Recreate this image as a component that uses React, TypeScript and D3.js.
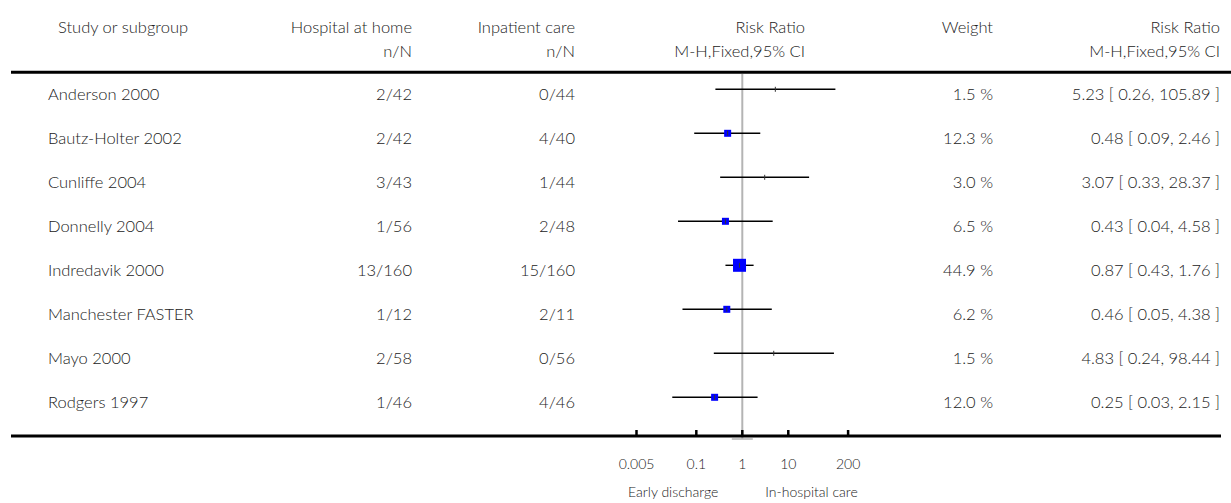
import React from "react";
import * as d3 from "d3";

const studies = [
  "Anderson 2000",
  "Bautz-Holter 2002",
  "Cunliffe 2004",
  "Donnelly 2004",
  "Indredavik 2000",
  "Manchester FASTER",
  "Mayo 2000",
  "Rodgers 1997",
];
const homeEvents = ["2/42", "2/42", "3/43", "1/56", "13/160", "1/12", "2/58", "1/46"];
const inpatientEvents = ["0/44", "4/40", "1/44", "2/48", "15/160", "2/11", "0/56", "4/46"];
const weights = [1.5, 12.3, 3.0, 6.5, 44.9, 6.2, 1.5, 12.0];
const riskRatio = [5.23, 0.48, 3.07, 0.43, 0.87, 0.46, 4.83, 0.25];
const ciLow = [0.26, 0.09, 0.33, 0.04, 0.43, 0.05, 0.24, 0.03];
const ciHigh = [105.89, 2.46, 28.37, 4.58, 1.76, 4.38, 98.44, 2.15];
const axisTicks = [0.005, 0.1, 1, 10, 200];
const axisTickLabels = ["0.005", "0.1", "1", "10", "200"];
const leftFavours = "Early discharge";
const rightFavours = "In-hospital care";

const W = 1231;
const H = 503;
const FONT = "Lato, 'Open Sans', sans-serif";
const TEXT = "#222";

export default function App() {
  const x = d3.scaleLog().domain([0.005, 200]).range([636.5, 848.1]);
  const y = d3.scalePoint<string>().domain(studies).range([89.3, 89.3 + 44 * 7]);
  const squareSize = d3.scaleThreshold<number, number>().domain([5, 20]).range([0, 7, 13]);
  const f2 = d3.format(".2f");
  const f1 = d3.format(".1f");

  const nameX = 48;
  const col2R = 412;
  const col3R = 575;
  const rrR = 805;
  const wR = 993;
  const ciR = 1220;
  const fs = 16.5;
  const h1 = 32.5;
  const h2 = 56.5;
  const axisY = 436;
  const x1 = x(1);

  return (
    <svg
      width={W}
      height={H}
      style={{ position: "absolute", left: 0, top: 0, background: "#fff" }}
      fontFamily={FONT}
      fontWeight={300}
    >
      <rect x={0} y={0} width={W} height={H} fill="#fff" />
      {/* header */}
      <g fontSize={fs} fill={TEXT}>
        <text x={58} y={h1}>Study or subgroup</text>
        <text x={col2R} y={h1} textAnchor="end">Hospital at home</text>
        <text x={col2R} y={h2} textAnchor="end">n/N</text>
        <text x={col3R} y={h1} textAnchor="end">Inpatient care</text>
        <text x={col3R} y={h2} textAnchor="end">n/N</text>
        <text x={rrR} y={h1} textAnchor="end">Risk Ratio</text>
        <text x={rrR} y={h2} textAnchor="end">M-H,Fixed,95% CI</text>
        <text x={wR} y={h1} textAnchor="end">Weight</text>
        <text x={ciR} y={h1} textAnchor="end">Risk Ratio</text>
        <text x={ciR} y={h2} textAnchor="end">M-H,Fixed,95% CI</text>
      </g>
      <line x1={11} x2={W} y1={72.3} y2={72.3} stroke="#000" strokeWidth={3} />

      {/* null line */}
      <line x1={x1} x2={x1} y1={74} y2={439} stroke="#b4b4b4" strokeWidth={2} />
      <line x1={x1 - 10.5} x2={x1 + 10.5} y1={439} y2={439} stroke="#b4b4b4" strokeWidth={1.5} />

      {/* rows */}
      {studies.map((s, i) => {
        const cy = y(s) as number;
        const ty = cy + 10.7;
        const sz = squareSize(weights[i]);
        return (
          <g key={s}>
            <g fontSize={fs} fill={TEXT}>
              <text x={nameX} y={ty}>{s}</text>
              <text x={col2R} y={ty} textAnchor="end">{homeEvents[i]}</text>
              <text x={col3R} y={ty} textAnchor="end">{inpatientEvents[i]}</text>
              <text x={wR} y={ty} textAnchor="end">{f1(weights[i])} %</text>
              <text x={ciR} y={ty} textAnchor="end">
                {`${f2(riskRatio[i])} [ ${f2(ciLow[i])}, ${f2(ciHigh[i])} ]`}
              </text>
            </g>
            <line x1={x(ciLow[i])} x2={x(ciHigh[i])} y1={cy} y2={cy} stroke="#000" strokeWidth={1.4} />
            {sz > 0 && (
              <rect
                x={x(riskRatio[i]) - sz / 2}
                y={cy - sz / 2}
                width={sz}
                height={sz}
                fill="#0000ff"
              />
            )}
            <line
              x1={x(riskRatio[i])}
              x2={x(riskRatio[i])}
              y1={cy - 2.5}
              y2={cy + 2.5}
              stroke="#333"
              strokeWidth={1}
            />
          </g>
        );
      })}

      {/* axis */}
      <line x1={11} x2={1221} y1={axisY} y2={axisY} stroke="#000" strokeWidth={3} />
      {axisTicks.map((t) => (
        <line key={t} x1={x(t)} x2={x(t)} y1={430} y2={axisY} stroke="#000" strokeWidth={2.5} />
      ))}
      <g fontSize={14} fill={TEXT} textAnchor="middle">
        {axisTicks.map((t, i) => (
          <text key={t} x={x(t)} y={469}>{axisTickLabels[i]}</text>
        ))}
      </g>
      <g fontSize={14} fill={TEXT}>
        <text x={x1 - 24} y={496.5} textAnchor="end">{leftFavours}</text>
        <text x={x1 + 23} y={496.5}>{rightFavours}</text>
      </g>
    </svg>
  );
}
